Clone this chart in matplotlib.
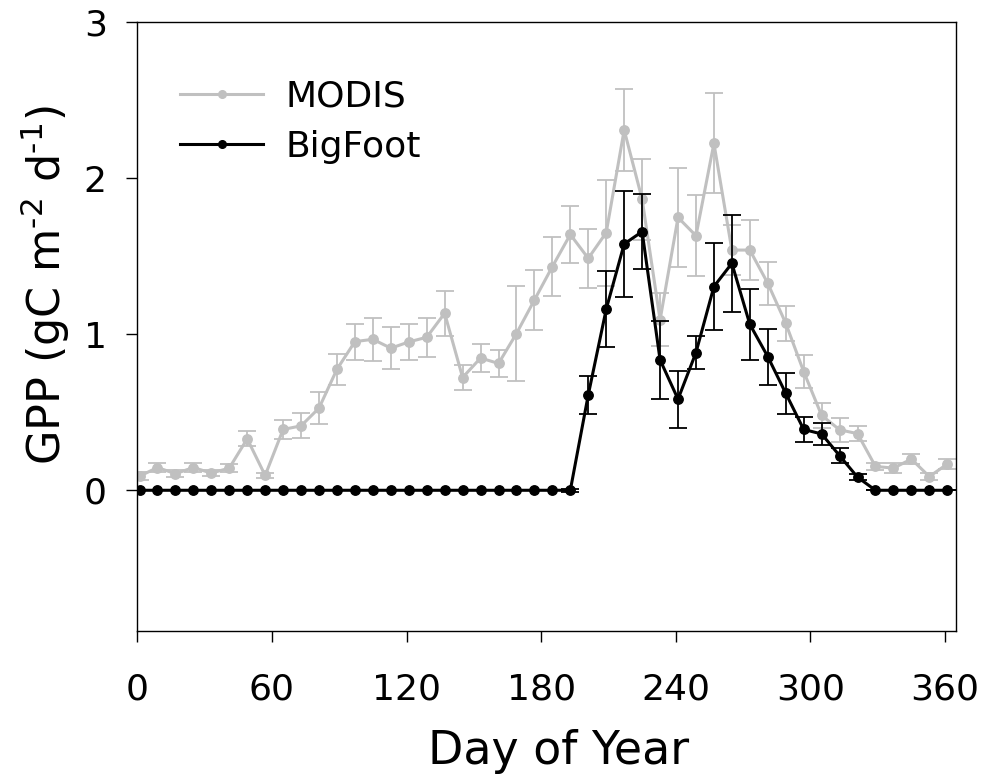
import numpy as np
import matplotlib
matplotlib.use("Agg")
import matplotlib.pyplot as plt
from matplotlib.lines import Line2D

plt.rcParams['font.family'] = ['DejaVu Sans']

# Day of year (8-day composites)
doy = list(range(1, 362, 8))

modis = [0.09, 0.146, 0.106, 0.146, 0.11, 0.142, 0.33, 0.095, 0.39, 0.413,
         0.527, 0.776, 0.953, 0.968, 0.911, 0.951, 0.981, 1.135, 0.723, 0.848,
         0.813, 1.005, 1.22, 1.434, 1.64, 1.487, 1.652, 2.31, 1.866, 1.092,
         1.749, 1.632, 2.224, 1.54, 1.54, 1.327, 1.071, 0.761, 0.48, 0.388,
         0.363, 0.153, 0.142, 0.2, 0.088, 0.168]
modis_err = [0.025, 0.026, 0.022, 0.026, 0.02, 0.027, 0.048, 0.018, 0.062, 0.081,
             0.10, 0.10, 0.116, 0.138, 0.135, 0.115, 0.124, 0.143, 0.081, 0.092,
             0.086, 0.304, 0.19, 0.19, 0.18, 0.19, 0.34, 0.26, 0.26, 0.17,
             0.317, 0.26, 0.32, 0.16, 0.19, 0.137, 0.113, 0.105, 0.08, 0.077,
             0.05, 0.024, 0.03, 0.03, 0.025, 0.03]

bigfoot = [0.0] * 25 + [0.612, 1.161, 1.579, 1.658, 0.836, 0.584, 0.883, 1.306,
                        1.455, 1.064, 0.857, 0.622, 0.39, 0.361, 0.222, 0.084,
                        0.0, 0.0, 0.0, 0.0, 0.0]
bigfoot_err = [0.0] * 24 + [0.01, 0.12, 0.245, 0.337, 0.24, 0.248, 0.182, 0.105,
                            0.28, 0.31, 0.226, 0.18, 0.131, 0.079, 0.073, 0.046,
                            0.02, 0.0, 0.0, 0.0, 0.0, 0.0]

xticks = [0, 60, 120, 180, 240, 300, 360]
yticks = [0, 1, 2, 3]
series_names = ['MODIS', 'BigFoot']

gray = '#c0c0c0'

fig = plt.figure(figsize=(9.84, 7.81), dpi=100)
ax = fig.add_axes([0.1395, 0.1925, 0.8323, 0.7789])

ax.errorbar(doy, modis, yerr=modis_err, color=gray, ecolor=gray, lw=2.2,
            elinewidth=1.3, capsize=6.5, capthick=1.3, marker='o', ms=6.8,
            zorder=2)
ax.errorbar(doy, bigfoot, yerr=bigfoot_err, color='black', ecolor='black', lw=2.2,
            elinewidth=1.3, capsize=6.5, capthick=1.3, marker='o', ms=6.8,
            zorder=3)

ax.set_xlim(0, 365)
ax.set_ylim(-0.9, 3)
ax.set_xticks(xticks)
ax.set_yticks(yticks)
ax.tick_params(axis='both', direction='out', length=8, width=1, labelsize=26)
ax.tick_params(axis='x', pad=22)
ax.tick_params(axis='y', pad=14)
for s in ax.spines.values():
    s.set_linewidth(1)
    s.set_color('black')

ax.set_xlabel('Day of Year', fontsize=33)
ax.set_ylabel('GPP (gC m$^{\\text{-2}}$ d$^{\\text{-1}}$)', fontsize=32)
ax.xaxis.set_label_coords(0.514, -0.199)
ax.yaxis.set_label_coords(-0.113, 0.568)
ax.xaxis.label.set_va('center')
ax.yaxis.label.set_va('center')

handles = [Line2D([], [], color=gray, lw=2.2, marker='o', ms=5.5),
           Line2D([], [], color='black', lw=2.2, marker='o', ms=5.5)]
ax.legend(handles, series_names, loc='upper left', bbox_to_anchor=(0.035, 0.93),
          frameon=False, fontsize=26, handlelength=2.3, handletextpad=0.6,
          labelspacing=0.45, borderaxespad=0)

fig.savefig('out.png', dpi=100)
